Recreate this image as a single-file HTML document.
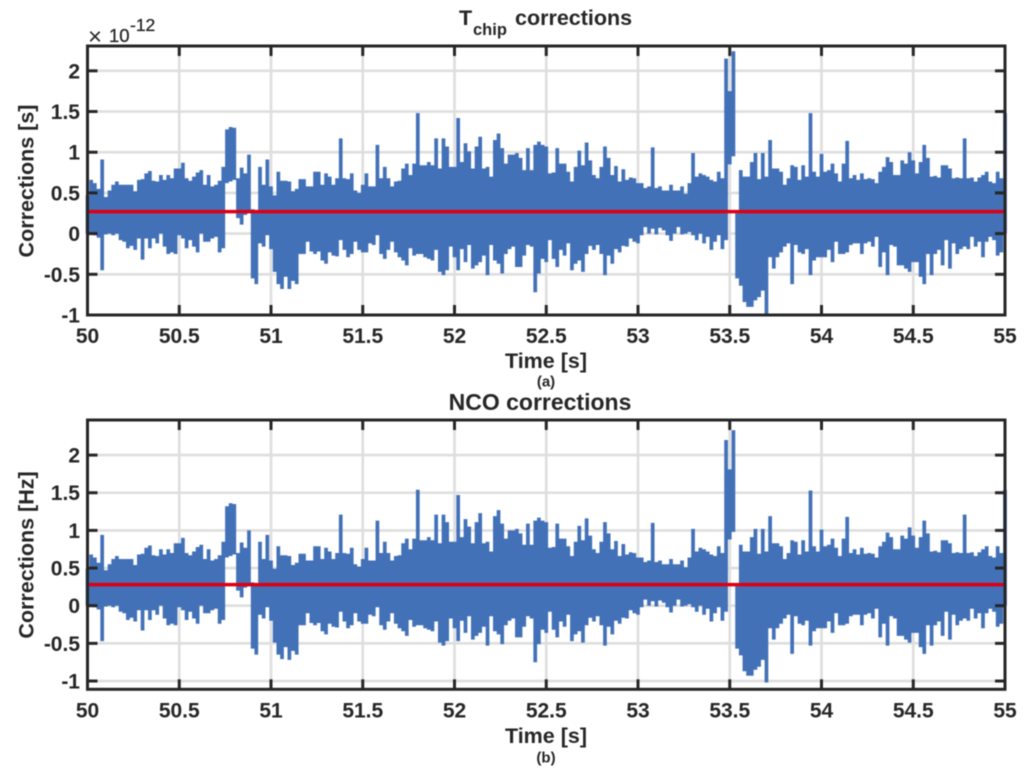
<!DOCTYPE html>
<html>
<head>
<meta charset="utf-8">
<title>Corrections charts</title>
<style>
html,body{margin:0;padding:0;background:#fff;}
svg{display:block;font-family:"Liberation Sans",Arial,sans-serif;fill:#262626;filter:blur(0.4px);}
text{font-weight:bold;}
</style>
</head>
<body>
<svg id="figure" xmlns="http://www.w3.org/2000/svg" width="1024" height="778" viewBox="0 0 1024 778">
  <rect width="1024" height="778" fill="#fff"/>
  <g id="top-chart"></g>
  <g id="bottom-chart"></g>

  <text x="459" y="25" font-size="21.5">T</text>
  <text x="473" y="35" font-size="16.5">chip</text>
  <text x="515" y="25" font-size="21.5">corrections</text>
  <text x="540" y="410" font-size="23" text-anchor="middle">NCO corrections</text>

  <text x="88" y="44.5" font-size="24" style="font-weight:normal">×</text>
  <text x="109" y="42" font-size="18.5" stroke="#262626" stroke-width="0.3" style="font-weight:normal">10</text>
  <text x="130" y="31" font-size="17.5" stroke="#262626" stroke-width="0.3" style="font-weight:normal">-12</text>

  <text x="546" y="368" font-size="21.5" text-anchor="middle">Time [s]</text>
  <text x="546" y="743" font-size="21.5" text-anchor="middle">Time [s]</text>
  <text transform="translate(33.5,181) rotate(-90)" font-size="21.5" text-anchor="middle">Corrections [s]</text>
  <text transform="translate(33.5,555) rotate(-90)" font-size="21.5" text-anchor="middle">Corrections [Hz]</text>
  <text x="546" y="386.5" font-size="15" text-anchor="middle">(a)</text>
  <text x="546" y="762.5" font-size="15" text-anchor="middle">(b)</text>
</svg>
<script>
const xTickValues = [50, 50.5, 51, 51.5, 52, 52.5, 53, 53.5, 54, 54.5, 55];
const xTickLabels = ['50', '50.5', '51', '51.5', '52', '52.5', '53', '53.5', '54', '54.5', '55'];
const yTickValues = [-1, -0.5, 0, 0.5, 1, 1.5, 2];
const yTickLabels = ['-1', '-0.5', '0', '0.5', '1', '1.5', '2'];
const sampleStartTime = 50;
const sampleInterval = 0.02;
const tChipMean = [0.27];
const ncoMean = [0.28];

const tChipUpper = [
.47,.66,.62,.55,.91,.45,.53,.6,.64,.6,
.6,.6,.6,.52,.66,.67,.74,.77,.65,.64,
.72,.66,.72,.68,.8,.8,.87,.68,.65,.7,
.75,.78,.6,.72,.58,.6,.65,.82,1.28,1.31,
1.3,.68,.81,.74,.97,.3,.28,.82,.6,.91,
.58,.47,.76,.65,.65,.64,.52,.55,.67,.67,
.58,.58,.76,.76,.6,.74,.7,.6,.68,1.17,
.68,.67,.74,.53,.5,.6,.74,.58,.58,1.09,
.68,.82,.68,.58,.64,.65,.8,.86,.72,.86,
1.48,.84,.84,.88,.84,1.17,.8,1.17,1.07,.82,
.82,1.42,.88,1.11,1.01,.8,1.07,1.19,.8,.82,
.7,1.15,1.23,1.05,.86,.97,.97,.99,.93,.78,
1.05,.78,1.09,1.13,1.09,1.07,.74,.75,1.05,.86,
.86,.76,.64,.82,1.02,.84,1.12,.9,.72,.68,
.82,1.07,.93,.72,.83,.64,.79,.66,.69,.68,
.62,.62,.56,.58,1.06,.56,.58,.53,.53,.6,
.53,.53,.58,.49,.62,.99,.7,.74,.72,.7,
.66,.64,.76,.68,2.15,1.75,2.24,.25,.78,.7,
.7,.88,.99,.67,.99,.7,1.15,.8,.8,.76,
.6,.68,.84,.82,.66,.84,.7,1.48,.76,.7,
.98,.76,.78,.86,.74,.64,.86,1.14,.68,.72,
.66,.74,.67,.68,.67,.62,.76,.82,.94,.88,
.72,.72,.9,.86,1,.9,.74,.88,1.09,.93,
.7,.71,.69,.84,.84,.8,.68,.69,.68,1.17,
.68,.69,.64,.69,.72,.76,.64,.62,.76,.68,1.48];

const tChipLower = [
0,0,-.02,-.05,-.45,-.01,0,-.02,0,-.08,
-.1,-.18,-.15,-.2,-.06,-.32,-.06,-.18,-.06,-.12,
0,-.16,-.25,-.23,-.25,-.02,-.06,-.18,-.08,-.16,
-.23,0,-.1,-.1,-.06,-.04,-.23,-.18,.62,.64,
.66,.19,.11,.23,.25,-.55,-.62,-.12,-.16,-.02,
-.19,-.47,-.62,-.68,-.53,-.68,-.58,-.62,-.25,-.25,
-.1,-.22,-.25,-.22,-.33,-.37,-.23,-.27,-.28,-.08,
-.2,-.29,-.25,-.1,-.2,-.23,-.23,-.12,-.14,-.02,
-.25,-.31,-.2,-.1,-.23,-.29,-.33,-.39,-.18,-.27,
-.25,-.25,-.29,-.31,-.33,-.2,-.47,-.51,-.45,-.16,
-.29,-.45,-.19,-.35,-.14,-.43,-.39,-.35,-.27,-.51,
-.14,-.33,-.37,-.49,-.25,-.19,-.16,-.41,-.41,-.27,
-.14,-.16,-.72,-.49,-.31,-.35,-.08,-.31,-.41,-.2,
-.27,-.12,-.45,-.37,-.33,-.47,-.25,-.15,-.2,-.14,
-.25,-.51,-.27,-.37,-.19,-.23,-.15,-.16,-.06,-.1,
-.12,-.02,.08,0,.06,-.01,.07,.04,-.02,-.09,
0,.08,-.01,0,.02,-.02,-.08,0,-.12,-.04,
-.2,-.1,-.02,-.19,-.08,.85,.95,-.55,-.64,-.84,
-.9,-.9,-.82,-.78,-.7,-1,-.29,-.43,-.29,-.23,
-.16,-.12,-.62,-.14,-.23,-.25,-.19,-.51,-.33,-.29,
-.29,-.29,-.2,-.35,-.1,-.25,-.25,-.23,-.14,-.12,
-.12,-.25,-.12,-.1,-.16,-.04,-.41,-.23,-.51,-.14,
-.16,-.39,-.39,-.43,-.47,-.35,-.35,-.53,-.62,-.25,
-.51,-.25,-.2,-.39,-.08,-.43,-.12,-.25,-.19,-.16,
-.19,-.04,-.16,-.1,-.29,-.1,-.04,-.08,-.27,-.23,0];

const ncoUpper = [
.49,.68,.64,.57,.94,.47,.55,.62,.66,.62,
.62,.62,.62,.54,.68,.69,.77,.8,.67,.66,
.75,.68,.75,.7,.83,.83,.9,.7,.67,.72,
.78,.81,.62,.75,.6,.62,.67,.85,1.32,1.36,
1.35,.7,.84,.77,1.0,.31,.29,.85,.62,.94,
.6,.49,.79,.67,.67,.66,.54,.57,.69,.69,
.6,.6,.79,.79,.62,.77,.72,.62,.7,1.21,
.7,.69,.77,.55,.52,.62,.77,.6,.6,1.13,
.7,.85,.7,.6,.66,.67,.83,.89,.75,.89,
1.54,.87,.87,.91,.87,1.21,.83,1.21,1.11,.85,
.85,1.47,.91,1.15,1.05,.83,1.11,1.23,.83,.85,
.72,1.19,1.27,1.09,.89,1.0,1.0,1.02,.96,.81,
1.09,.81,1.13,1.17,1.13,1.11,.77,.78,1.09,.89,
.89,.79,.66,.85,1.06,.87,1.16,.93,.75,.7,
.85,1.11,.96,.75,.86,.66,.82,.68,.71,.7,
.64,.64,.58,.6,1.1,.58,.6,.55,.55,.62,
.55,.55,.6,.51,.64,1.02,.72,.77,.75,.72,
.68,.66,.79,.7,2.2,1.81,2.33,.26,.81,.72,
.72,.91,1.02,.69,1.02,.72,1.19,.83,.83,.79,
.62,.7,.87,.85,.68,.87,.72,1.53,.79,.72,
1.01,.79,.81,.89,.77,.66,.89,1.18,.7,.75,
.68,.77,.69,.7,.69,.64,.79,.85,.97,.91,
.75,.75,.93,.89,1.04,.93,.77,.91,1.13,.96,
.72,.73,.71,.87,.87,.83,.7,.71,.7,1.21,
.7,.71,.66,.71,.75,.79,.66,.64,.79,.7,1.54];

const ncoLower = [
0,0,-.02,-.05,-.47,-.01,0,-.02,0,-.08,
-.1,-.19,-.16,-.21,-.06,-.33,-.06,-.19,-.06,-.12,
0,-.17,-.26,-.24,-.26,-.02,-.06,-.19,-.08,-.17,
-.24,0,-.1,-.1,-.06,-.04,-.24,-.19,.64,.66,
.68,.2,.11,.24,.26,-.57,-.65,-.12,-.17,-.02,
-.2,-.49,-.65,-.71,-.55,-.72,-.6,-.65,-.26,-.26,
-.1,-.23,-.26,-.23,-.34,-.38,-.24,-.28,-.29,-.08,
-.21,-.3,-.26,-.1,-.21,-.24,-.24,-.12,-.14,-.02,
-.26,-.32,-.21,-.1,-.24,-.3,-.34,-.4,-.19,-.28,
-.26,-.26,-.3,-.32,-.34,-.21,-.49,-.53,-.47,-.17,
-.3,-.47,-.2,-.36,-.14,-.45,-.4,-.36,-.28,-.53,
-.14,-.34,-.38,-.51,-.26,-.2,-.17,-.42,-.42,-.28,
-.14,-.17,-.75,-.51,-.32,-.36,-.08,-.32,-.42,-.21,
-.28,-.12,-.47,-.38,-.34,-.49,-.26,-.16,-.21,-.14,
-.26,-.53,-.28,-.38,-.2,-.24,-.16,-.17,-.06,-.1,
-.12,-.02,.08,0,.06,-.01,.07,.04,-.02,-.09,
0,.08,-.01,0,.02,-.02,-.08,0,-.12,-.04,
-.21,-.1,-.02,-.2,-.08,.88,.98,-.57,-.66,-.87,
-.93,-.93,-.85,-.81,-.72,-1.02,-.3,-.45,-.3,-.24,
-.17,-.12,-.64,-.14,-.24,-.26,-.2,-.53,-.34,-.3,
-.3,-.3,-.21,-.36,-.1,-.26,-.26,-.24,-.14,-.12,
-.12,-.26,-.12,-.1,-.17,-.04,-.42,-.24,-.53,-.14,
-.17,-.4,-.4,-.45,-.49,-.36,-.36,-.55,-.64,-.26,
-.53,-.26,-.21,-.4,-.08,-.45,-.12,-.26,-.2,-.17,
-.2,-.04,-.17,-.1,-.3,-.1,-.04,-.08,-.28,-.24,0];

const NS = 'http://www.w3.org/2000/svg';
const AXIS_COLOR = '#262626';
const GRID_COLOR = '#dedede';
const TRACE_COLOR = '#4271b8';
const MEAN_COLOR = '#de0012';

function make(parent, tag, props) {
  const el = document.createElementNS(NS, tag);
  for (const key in props) el.setAttribute(key, props[key]);
  parent.appendChild(el);
  return el;
}

function drawLine(parent, x1, y1, x2, y2, color, width) {
  return make(parent, 'line', { x1, y1, x2, y2, stroke: color, 'stroke-width': width });
}

function drawChart(root, name, box, yDomain, upper, lower, mean) {
  const left = box.left, right = box.right, top = box.top, bottom = box.bottom;
  const xFirst = xTickValues[0], xLast = xTickValues[xTickValues.length - 1];
  const xScale = t => left + (t - xFirst) / (xLast - xFirst) * (right - left);
  const yScale = v => bottom - (v - yDomain[0]) / (yDomain[1] - yDomain[0]) * (bottom - top);

  xTickValues.forEach(t => {
    if (t === xFirst || t === xLast) return;
    const grid = drawLine(root, xScale(t), top, xScale(t), bottom, GRID_COLOR, 2.6);
    
    
  });
  yTickValues.forEach(v => {
    const grid = drawLine(root, left, yScale(v), right, yScale(v), GRID_COLOR, 2.6);
    
    
  });

  let d = '';
  upper.forEach((hi, i) => {
    const x = xScale(sampleStartTime + i * sampleInterval);
    d += 'M' + x.toFixed(2) + ' ' + yScale(hi).toFixed(2) + 'V' + yScale(lower[i]).toFixed(2);
  });
  const trace = make(root, 'path', { d, fill: 'none', stroke: TRACE_COLOR, 'stroke-width': 3.72 });
  
  

  const meanLine = drawLine(root, left, yScale(mean[0]), right, yScale(mean[0]), MEAN_COLOR, 3.4);
  
  

  const frame = make(root, 'rect', { x: left, y: top, width: right - left, height: bottom - top, fill: 'none', stroke: AXIS_COLOR, 'stroke-width': 3 });
  
  

  xTickValues.forEach((t, i) => {
    const x = xScale(t);
    const tickBottom = drawLine(root, x, bottom, x, bottom - 10, AXIS_COLOR, 3);
    
    
    const tickTop = drawLine(root, x, top, x, top + 10, AXIS_COLOR, 3);
    
    
    const label = make(root, 'text', { x, y: bottom + 28, 'font-size': 21, 'text-anchor': 'middle' });
    label.textContent = xTickLabels[i];
    
    
  });
  yTickValues.forEach((v, i) => {
    const y = yScale(v);
    const tickLeft = drawLine(root, left, y, left + 10, y, AXIS_COLOR, 3);
    
    
    const tickRight = drawLine(root, right, y, right - 10, y, AXIS_COLOR, 3);
    
    
    const label = make(root, 'text', { x: left - 7.5, y: y + 7.5, 'font-size': 21, 'text-anchor': 'end' });
    label.textContent = yTickLabels[i];
    
    
  });
}

drawChart(document.getElementById('top-chart'), 'tchip',
  { left: 87.5, right: 1005, top: 46, bottom: 315 }, [-1, 2.305], tChipUpper, tChipLower, tChipMean);
drawChart(document.getElementById('bottom-chart'), 'nco',
  { left: 87.5, right: 1005, top: 420, bottom: 689.3 }, [-1.11, 2.466], ncoUpper, ncoLower, ncoMean);
</script>
</body>
</html>
